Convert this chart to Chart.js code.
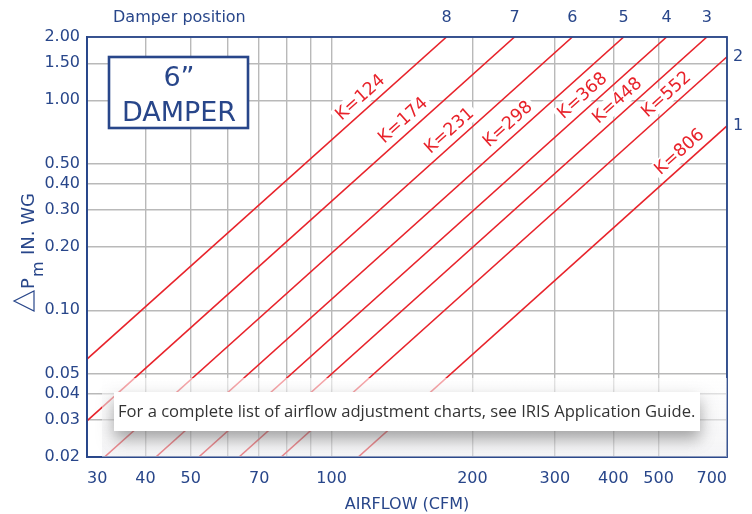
<!DOCTYPE html>
<html>
<head>
<meta charset="utf-8">
<script src="https://cdn.jsdelivr.net/npm/chart.js@4"></script>
<style>
  html, body { margin: 0; padding: 0; background: #fff; }
  canvas { display: block; }
</style>
</head>
<body>
<canvas id="damperChart" width="752" height="514"></canvas>
<script>
// K factor of each curve, and the damper position it belongs to
const kValues = [124, 174, 231, 298, 368, 448, 552, 806];
const damperPositions = ['8', '7', '6', '5', '4', '3', '2', '1'];

// where each line enters and leaves the plot (CFM, in. wg)
const startFlow = [30, 30, 32.7, 42.1, 52, 63.4, 78, 114];
const startDrop = [0.0585, 0.0297, 0.02, 0.02, 0.02, 0.02, 0.02, 0.02];
const endFlow = [176, 246, 327, 421, 520, 634, 700, 700];
const endDrop = [2, 2, 2, 2, 2, 2, 1.61, 0.754];

// airflow where each "K=" label sits along its line
const labelFlow = [120, 148, 186, 248, 358, 425, 541, 577];

const flowTicks = [30, 40, 50, 60, 70, 80, 90, 100, 200, 300, 400, 500, 700];
const flowLabelled = [30, 40, 50, 70, 100, 200, 300, 400, 500, 700];
const dropTicks = [0.02, 0.03, 0.04, 0.05, 0.1, 0.2, 0.3, 0.4, 0.5, 1, 1.5, 2];

const NAVY = '#28468a';
const RED = '#e8232b';
const GRID = '#b9b9b9';
const FONT = '"DejaVu Sans", sans-serif';

const datasets = kValues.map((k, i) => ({
    label: 'K=' + k,
    data: [{ x: startFlow[i], y: startDrop[i] }, { x: endFlow[i], y: endDrop[i] }],
    borderColor: RED,
    borderWidth: 1.6,
    pointRadius: 0,
    showLine: true,
    fill: false
}));

function linePixels(chart, i) {
    const xs = chart.scales.x, ys = chart.scales.y;
    return {
        x0: xs.getPixelForValue(startFlow[i]), y0: ys.getPixelForValue(startDrop[i]),
        x1: xs.getPixelForValue(endFlow[i]), y1: ys.getPixelForValue(endDrop[i])
    };
}

function drawKLabels(chart, background) {
    const ctx = chart.ctx;
    const xs = chart.scales.x;
    ctx.save();
    ctx.font = '17.5px ' + FONT;
    kValues.forEach((k, i) => {
        const p = linePixels(chart, i);
        const ang = Math.atan2(p.y1 - p.y0, p.x1 - p.x0);
        const t = (xs.getPixelForValue(labelFlow[i]) - p.x0) / (p.x1 - p.x0);
        const px = p.x0 + t * (p.x1 - p.x0);
        const py = p.y0 + t * (p.y1 - p.y0);
        const txt = 'K=' + k;
        const w = ctx.measureText(txt).width;
        ctx.save();
        ctx.translate(px, py);
        ctx.rotate(ang);
        if (background) {
            ctx.fillStyle = '#fff';
            ctx.fillRect(-w / 2 - 3, -22, w + 6, 19);
        } else {
            ctx.fillStyle = RED;
            ctx.textAlign = 'center';
            ctx.textBaseline = 'middle';
            ctx.fillText(txt, 0, -12);
        }
        ctx.restore();
    });
    ctx.restore();
}

const decorations = {
    id: 'decorations',
    beforeDatasetsDraw(chart) {
        const ctx = chart.ctx;
        drawKLabels(chart, true);
        // size box
        ctx.save();
        ctx.fillStyle = '#fff';
        ctx.fillRect(109, 57, 139, 71);
        ctx.strokeStyle = NAVY;
        ctx.lineWidth = 2.6;
        ctx.strokeRect(109, 57, 139, 71);
        ctx.fillStyle = NAVY;
        ctx.font = '27px ' + FONT;
        ctx.textAlign = 'center';
        ctx.textBaseline = 'alphabetic';
        ctx.fillText('6\u201D', 179, 86);
        ctx.fillText('DAMPER', 179, 121);
        ctx.restore();
    },
    afterDatasetsDraw(chart) {
        const ctx = chart.ctx;
        const a = chart.chartArea;
        drawKLabels(chart, false);
        ctx.save();
        ctx.strokeStyle = NAVY;
        ctx.lineWidth = 1.8;
        ctx.strokeRect(a.left, a.top, a.right - a.left, a.bottom - a.top);
        ctx.restore();
    },
    afterDraw(chart) {
        const ctx = chart.ctx;
        const a = chart.chartArea;
        const xs = chart.scales.x, ys = chart.scales.y;
        ctx.save();
        ctx.fillStyle = NAVY;
        ctx.font = '16px ' + FONT;
        ctx.textBaseline = 'middle';
        ctx.textAlign = 'left';
        ctx.fillText('Damper position', 113, 18);

        // damper position numbers where each line leaves the plot
        kValues.forEach((k, i) => {
            if (endDrop[i] >= 2) {
                ctx.textAlign = 'center';
                ctx.fillText(damperPositions[i], xs.getPixelForValue(endFlow[i]), 18);
            } else {
                ctx.textAlign = 'left';
                ctx.fillText(damperPositions[i], a.right + 6, ys.getPixelForValue(endDrop[i]));
            }
        });

        // y axis title: triangle P_m IN. WG, rotated
        ctx.translate(34, 311);
        ctx.rotate(-Math.PI / 2);
        ctx.strokeStyle = NAVY;
        ctx.lineWidth = 1.2;
        ctx.beginPath();
        ctx.moveTo(0, 0);
        ctx.lineTo(20, 0);
        ctx.lineTo(10, -20);
        ctx.closePath();
        ctx.stroke();
        ctx.textAlign = 'left';
        ctx.textBaseline = 'alphabetic';
        ctx.font = '18px ' + FONT;
        ctx.fillText('P', 22, 0);
        ctx.font = '16px ' + FONT;
        ctx.fillText('m', 34, 9);
        ctx.font = '18px ' + FONT;
        ctx.fillText('IN. WG', 56, 0);
        ctx.restore();

        // footnote panel
        ctx.save();
        const g = ctx.createLinearGradient(0, 378, 0, 458);
        g.addColorStop(0, 'rgba(255,255,255,0.6)');
        g.addColorStop(1, 'rgba(235,235,238,0.5)');
        ctx.fillStyle = g;
        ctx.fillRect(102, 378, a.right - 102, a.bottom - 378);
        ctx.shadowColor = 'rgba(0,0,0,0.35)';
        ctx.shadowBlur = 16;
        ctx.shadowOffsetY = 8;
        ctx.fillStyle = '#fff';
        ctx.fillRect(114, 392, 586, 39);
        ctx.shadowColor = 'transparent';
        ctx.fillStyle = '#333';
        ctx.font = '16.6px "Open Sans", sans-serif';
        ctx.textAlign = 'left';
        ctx.textBaseline = 'alphabetic';
        ctx.fillText('For a complete list of airflow adjustment charts, see IRIS Application Guide.', 118, 417);
        ctx.restore();
    }
};

new Chart(document.getElementById('damperChart'), {
    type: 'scatter',
    data: { datasets: datasets },
    plugins: [decorations],
    options: {
        responsive: false,
        animation: false,
        layout: { padding: { top: 37, right: 25, left: 0, bottom: 0 } },
        plugins: { legend: { display: false }, tooltip: { enabled: false } },
        scales: {
            x: {
                type: 'logarithmic',
                min: 30,
                max: 700,
                afterBuildTicks: s => { s.ticks = flowTicks.map(v => ({ value: v })); },
                afterFit: s => { s.height = 57; },
                ticks: {
                    autoSkip: false,
                    maxRotation: 0,
                    align: 'inner',
                    padding: 12,
                    color: NAVY,
                    font: { family: FONT, size: 16 },
                    callback: v => flowLabelled.includes(v) ? String(v) : ''
                },
                grid: { color: GRID, lineWidth: 1.4, drawTicks: false },
                border: { color: NAVY, width: 1.8 },
                title: {
                    display: true,
                    text: 'AIRFLOW (CFM)',
                    color: NAVY,
                    font: { family: FONT, size: 16 },
                    padding: { top: 0, bottom: 0 }
                }
            },
            y: {
                type: 'logarithmic',
                min: 0.02,
                max: 2,
                afterBuildTicks: s => { s.ticks = dropTicks.map(v => ({ value: v })); },
                afterFit: s => { s.width = 87; },
                ticks: {
                    autoSkip: false,
                    padding: 7,
                    color: NAVY,
                    font: { family: FONT, size: 16 },
                    callback: v => Number(v).toFixed(2)
                },
                grid: { color: GRID, lineWidth: 1.4, drawTicks: false },
                border: { color: NAVY, width: 1.8 }
            }
        }
    }
});
</script>
</body>
</html>
